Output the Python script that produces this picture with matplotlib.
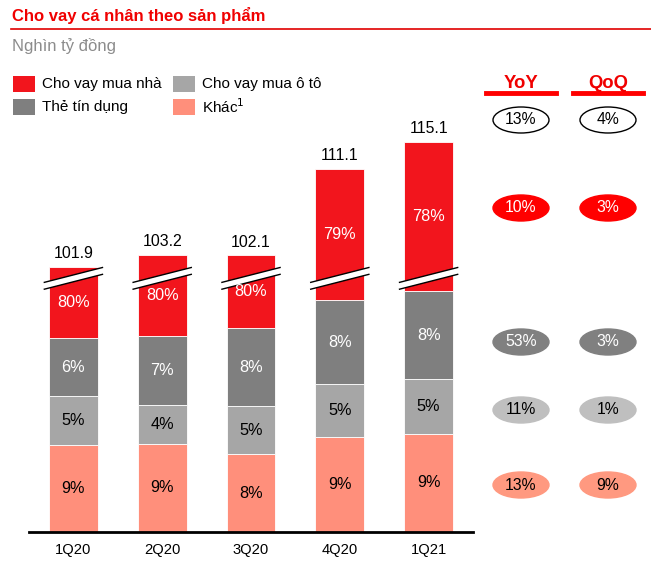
import numpy as np
import matplotlib.pyplot as plt
from matplotlib.patches import Ellipse, Polygon, Rectangle

plt.rcParams['font.family'] = ['Liberation Sans', 'DejaVu Sans']

quarters = ['1Q20', '2Q20', '3Q20', '4Q20', '1Q21']
totals = [101.9, 103.2, 102.1, 111.1, 115.1]
# shares of each product in the total (%), bottom to top
share_other = [9, 9, 8, 9, 9]
share_auto = [5, 4, 5, 5, 5]
share_card = [6, 7, 8, 8, 8]
share_home = [80, 80, 80, 79, 78]

series_names = ['Cho vay mua nhà', 'Cho vay mua ô tô', 'Thẻ tín dụng', 'Khác$^1$']
yoy = ['13%', '10%', '53%', '11%', '13%']
qoq = ['4%', '3%', '3%', '1%', '9%']

c_home = '#F2151D'
c_card = '#7F7F7F'
c_auto = '#A6A6A6'
c_other = '#FF8F7B'

BREAK_GAP = 74.0   # amount cut out of the home-loan bar
BREAK_Y = 26.7

fig = plt.figure(figsize=(6.51, 5.68), dpi=100)
W, H = 651, 568
ax = fig.add_axes([29 / W, 36 / H, 444 / W, 427.5 / H])

x = np.arange(len(quarters))
tot = np.array(totals)
other = np.array(share_other) / 100 * tot
auto = np.array(share_auto) / 100 * tot
card = np.array(share_card) / 100 * tot
home = np.array(share_home) / 100 * tot
home_disp = home - BREAK_GAP

bw = 0.55
segs = [(other, c_other, share_other, 'black'),
        (auto, c_auto, share_auto, 'black'),
        (card, c_card, share_card, 'white'),
        (home_disp, c_home, share_home, 'white')]
bottom = np.zeros(len(x))
for vals, col, shares, tcol in segs:
    ax.bar(x, vals, bw, bottom=bottom, color=col, edgecolor='white', linewidth=0.6, zorder=2)
    for i in range(len(x)):
        ax.text(x[i], bottom[i] + vals[i] / 2, f'{shares[i]}%', ha='center', va='center',
                color=tcol, fontsize=11.7, zorder=5)
    bottom = bottom + vals

for i in range(len(x)):
    ax.text(x[i], bottom[i] + 0.6, f'{totals[i]:.1f}', ha='center', va='bottom', fontsize=11.4, zorder=5)
    # break mark
    hx = 0.335
    slope = 0.8
    th = 0.36
    pts = [(x[i] - hx, BREAK_Y - slope - th), (x[i] + hx, BREAK_Y + slope - th),
           (x[i] + hx, BREAK_Y + slope + th), (x[i] - hx, BREAK_Y - slope + th)]
    ax.add_patch(Polygon(pts, closed=True, facecolor='white', edgecolor='none', zorder=3))
    for s in (-th, th):
        ax.plot([x[i] - hx, x[i] + hx], [BREAK_Y - slope + s, BREAK_Y + slope + s],
                color='black', lw=1.0, zorder=4, solid_capstyle='butt')

ax.set_xlim(-0.5, 4.5)
ax.set_ylim(0, 45)
for sp in ['top', 'right', 'left']:
    ax.spines[sp].set_visible(False)
ax.spines['bottom'].set_linewidth(2)
ax.set_yticks([])
ax.set_xticks(x)
ax.set_xticklabels(quarters, fontsize=10.6)
ax.tick_params(axis='x', length=0, pad=8)

# title and subtitle
fig.text(12 / W, 1 - 16 / H, 'Cho vay cá nhân theo sản phẩm', color='#F00000', fontsize=12,
         fontweight='bold', ha='left', va='center')
fig.add_artist(plt.Line2D([11 / W, 1], [1 - 29 / H, 1 - 29 / H], color='#E00000', lw=1.2))
fig.text(12 / W, 1 - 46 / H, 'Nghìn tỷ đồng', color='#8C8C8C', fontsize=12, ha='left', va='center')

# legend
leg_items = [(series_names[0], c_home, 13, 84), (series_names[1], c_auto, 173, 84),
             (series_names[2], c_card, 13, 107), (series_names[3], c_other, 173, 107)]
for name, col, lx, ly in leg_items:
    fig.add_artist(Rectangle((lx / W, 1 - (ly + 8) / H), 22 / W, 16 / H, facecolor=col,
                             edgecolor='none', transform=fig.transFigure))
    fig.text((lx + 29) / W, 1 - ly / H, name, fontsize=11, ha='left', va='center')

# YoY / QoQ columns
cols = [(521, 'YoY', yoy), (608, 'QoQ', qoq)]
rows_y = [120, 208, 342, 410, 485]
ell_face = ['white', '#FF0000', '#808080', '#BFBFBF', '#FF9980']
ell_edge = ['black', '#FF0000', '#808080', '#BFBFBF', '#FF9980']
ell_text = ['black', 'white', 'white', 'black', 'black']
for cx, head, vals in cols:
    fig.text(cx / W, 1 - 83 / H, head, color='#F00000', fontsize=13.3, fontweight='bold',
             ha='center', va='center')
    fig.add_artist(plt.Line2D([(cx - 35) / W, (cx + 35) / W], [1 - 93 / H, 1 - 93 / H],
                              color='#FF0000', lw=3.5))
    for j, ry in enumerate(rows_y):
        fig.add_artist(Ellipse((cx / W, 1 - ry / H), 56 / W, 26 / H, facecolor=ell_face[j],
                               edgecolor=ell_edge[j], lw=1.0, transform=fig.transFigure))
        fig.text(cx / W, 1 - ry / H, vals[j], color=ell_text[j], fontsize=11.3,
                 ha='center', va='center')

fig.savefig('out.png', dpi=100)
